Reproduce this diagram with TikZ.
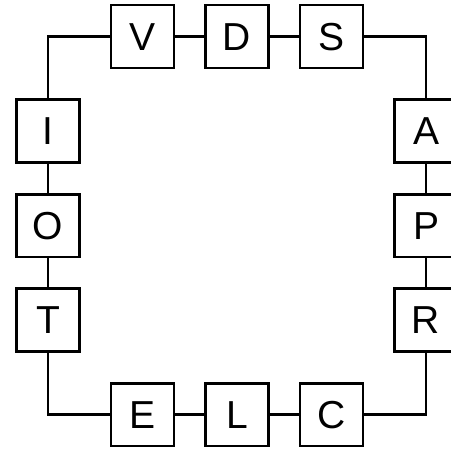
\documentclass[tikz,border=0pt]{standalone}
\usepackage{fontspec}
\setmainfont{Liberation Sans}
\tikzset{
	letterbox/.style={draw,line width=1.6pt,fill=white,minimum size=1.333cm,inner sep=0pt,font=\fontsize{23.5}{28}\selectfont},
	wire/.style={line width=1.6pt}
}
\begin{document}
\begin{tikzpicture}
	\useasboundingbox (-1.016,-0.79) rectangle (8.508,8.776);
	% top row
	\node[letterbox] (V) at (2,8) {V};
	\node[letterbox] (D) at (4,8) {D};
	\node[letterbox] (S) at (6,8) {S};
	% right column
	\node[letterbox] (A) at (8,6) {A};
	\node[letterbox] (P) at (8,4) {P};
	\node[letterbox] (R) at (8,2) {R};
	% bottom row
	\node[letterbox] (C) at (6,0) {C};
	\node[letterbox] (L) at (4,0) {L};
	\node[letterbox] (E) at (2,0) {E};
	% left column
	\node[letterbox] (T) at (0,2) {T};
	\node[letterbox] (O) at (0,4) {O};
	\node[letterbox] (I) at (0,6) {I};
	\draw[wire] (V) -- (D);
	\draw[wire] (D) -- (S);
	\draw[wire] (S.east) -| (A.north);
	\draw[wire] (A) -- (P);
	\draw[wire] (P) -- (R);
	\draw[wire] (R.south) |- (C.east);
	\draw[wire] (C) -- (L);
	\draw[wire] (L) -- (E);
	\draw[wire] (E.west) -| (T.south);
	\draw[wire] (T) -- (O);
	\draw[wire] (O) -- (I);
	\draw[wire] (I.north) |- (V.west);
\end{tikzpicture}
\end{document}
